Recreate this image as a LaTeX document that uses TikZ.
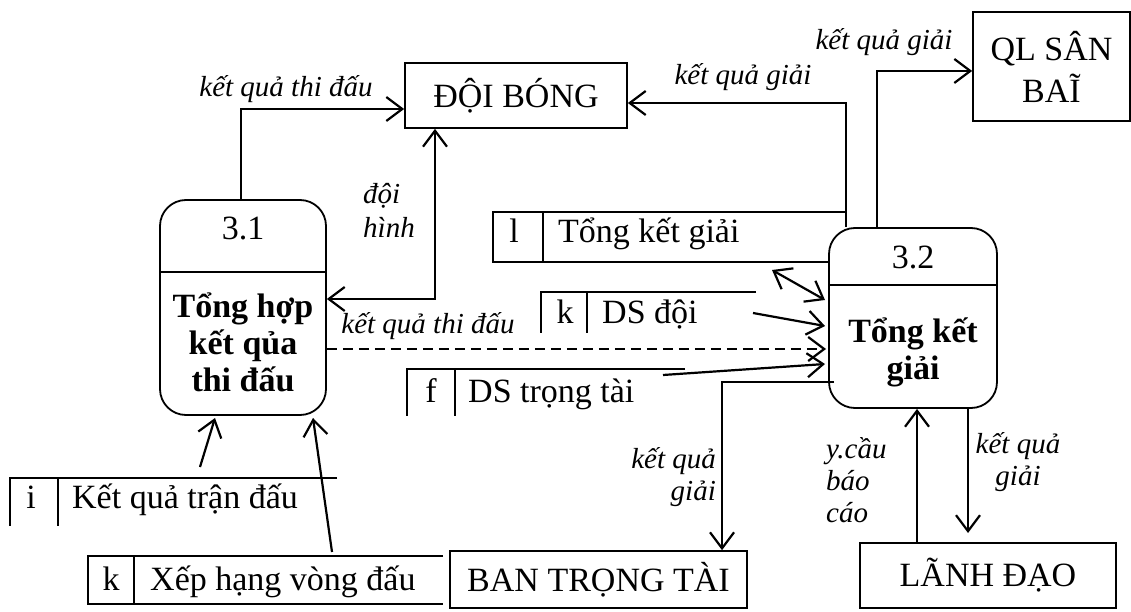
\documentclass[tikz,border=0pt]{standalone}
\usepackage{fontspec}
\setmainfont{Liberation Serif}
\usetikzlibrary{arrows.meta,calc}
\begin{document}
\begin{tikzpicture}[x=1pt,y=-1pt,
  ent/.style={draw,line width=1.7pt,inner sep=0pt,font=\fontsize{34}{40}\selectfont,align=center},
  proc/.style={draw,line width=1.8pt,rounded corners=26pt,inner sep=0pt},
  tip/.tip={Straight Barb[length=16pt,width=24pt]},
  flow/.style={line width=2.2pt,-tip},
  flowtwo/.style={line width=2.2pt,tip-tip},
  lbl/.style={font=\fontsize{29}{32}\selectfont\itshape,inner sep=0pt},
  txt/.style={font=\fontsize{34}{37}\selectfont,inner sep=0pt},
  bold/.style={font=\fontsize{34}{37}\selectfont\bfseries,inner sep=0pt},
  store/.style={line width=2.2pt}
]
\useasboundingbox (0,0) rectangle (1131,612);

% external entities
\node[ent,minimum width=222pt,minimum height=65pt] (doi) at (516,95.5) {ĐỘI BÓNG};
\node[ent,minimum width=157pt,minimum height=109pt,font=\fontsize{34}{42}\selectfont] (ql) at (1051.5,66.5) {QL SÂN\\BAĨ};
\node[ent,minimum width=297pt,minimum height=57pt] (ban) at (598.5,579.5) {BAN TRỌNG TÀI};
\node[ent,minimum width=256pt,minimum height=65pt] (lanh) at (988,575.5) {LÃNH ĐẠO};

% processes
\node[proc,minimum width=166pt,minimum height=215pt] (p31) at (243,307.5) {};
\node[proc,minimum width=168pt,minimum height=180pt] (p32) at (913,318) {};
\draw[line width=1.6pt] ($(p31.north west)+(0,73)$) -- ($(p31.north east)+(0,73)$);
\draw[line width=1.6pt] ($(p32.north west)+(0,58)$) -- ($(p32.north east)+(0,58)$);
\node[txt,anchor=base] (n31) at (243,240) {3.1};
\node[bold,anchor=base] (b31) at (243,317) {\begin{tabular}[t]{@{}c@{}}Tổng hợp\\kết qủa\\thi đấu\end{tabular}};
\node[txt,anchor=base] (n32) at (913,268) {3.2};
\node[bold,anchor=base] (b32) at (913,342) {\begin{tabular}[t]{@{}c@{}}Tổng kết\\giải\end{tabular}};

% data stores
\draw[store] (337,478) -- (10,478) -- (10,526);
\draw[store] (58,478) -- (58,526);
\node[txt,anchor=base] (si) at (31,508) {i};
\node[txt,anchor=base west] (sit) at (72,508) {Kết quả trận đấu};

\draw[store] (443,556) -- (88,556) -- (88,604) -- (443,604);
\draw[store] (134,556) -- (134,604);
\node[txt,anchor=base] (sx) at (111,590) {k};
\node[txt,anchor=base west] (sxt) at (150,590) {Xếp hạng vòng đấu};

\draw[store] (846,212) -- (493,212) -- (493,262) -- (829,262);
\draw[store] (543,212) -- (543,262);
\node[txt,anchor=base] (sl) at (514,243) {l};
\node[txt,anchor=base west] (slt) at (558,243) {Tổng kết giải};

\draw[store] (756,292) -- (541,292) -- (541,333);
\draw[store] (587,292) -- (587,333);
\node[txt,anchor=base] (sk) at (565,323) {k};
\node[txt,anchor=base west] (skt) at (602,323) {DS đội};

\draw[store] (685,369) -- (407,369) -- (407,416);
\draw[store] (455,369) -- (455,416);
\node[txt,anchor=base] (sf) at (431,402) {f};
\node[txt,anchor=base west] (sft) at (468,402) {DS trọng tài};

% route points
\coordinate (c1) at (241,109);
\coordinate (c2) at (435,299);
\coordinate (c3) at (846,103);
\coordinate (c4) at (877,71);
\coordinate (c5a) at (772,270);
\coordinate (c5b) at (825,300);
\coordinate (c6a) at (753,313);
\coordinate (c6b) at (825,326);
\coordinate (c7) at (826,349);
\coordinate (c8a) at (663,375);
\coordinate (c8b) at (825,364);
\coordinate (c9) at (722,382);
\coordinate (c10a) at (200,467);
\coordinate (c10b) at (215,418);
\coordinate (c11a) at (332,552);
\coordinate (c11b) at (313,418);
\coordinate (c12) at (917,0);
\coordinate (c13) at (968,533);

% flows
\draw[flow] (c1 |- p31.north) |- (c1 -| doi.west);
\draw[flowtwo] (c2 |- doi.south) |- (c2 -| p31.east);
\draw[flow] (c3 |- p32.north) |- (c3 -| doi.east);
\draw[flow] (c4 |- p32.north) |- (c4 -| ql.west);
\draw[flowtwo] (c5a) -- (c5b);
\draw[flow] (c6a) -- (c6b);
\draw[flow,dash pattern=on 10pt off 6pt] (c7 -| p31.east) -- (c7);
\draw[flow] (c8a) -- (c8b);
\draw[flow] ($(c9 -| p32.west)+(6,0)$) -- (c9) -- (c9 |- ban.north);
\draw[flow] (c10a) -- (c10b);
\draw[flow] (c11a) -- (c11b);
\draw[flow] (c12 |- lanh.north) -- (c12 |- p32.south);
\draw[flow] (c13 |- p32.south) -- (c13);

% flow labels
\node[lbl,anchor=base] (l1) at (286,97) {kết quả thi đấu};
\node[lbl,anchor=base west] (l2) at (363,204) {\begin{tabular}[t]{@{}l@{}}đội\\[2pt]hình\end{tabular}};
\node[lbl,anchor=base] (l3) at (743,85) {kết quả giải};
\node[lbl,anchor=base] (l4) at (884,50) {kết quả giải};
\node[lbl,anchor=base] (l5) at (428,333) {kết quả thi đấu};
\node[lbl,anchor=base east] (l6) at (716,468) {\begin{tabular}[t]{@{}r@{}}kết quả\\giải\end{tabular}};
\node[lbl,anchor=base west] (l7) at (826,458) {\begin{tabular}[t]{@{}l@{}}y.cầu\\báo\\cáo\end{tabular}};
\node[lbl,anchor=base] (l8) at (1018,453) {\begin{tabular}[t]{@{}c@{}}kết quả\\giải\end{tabular}};
\end{tikzpicture}
\end{document}
